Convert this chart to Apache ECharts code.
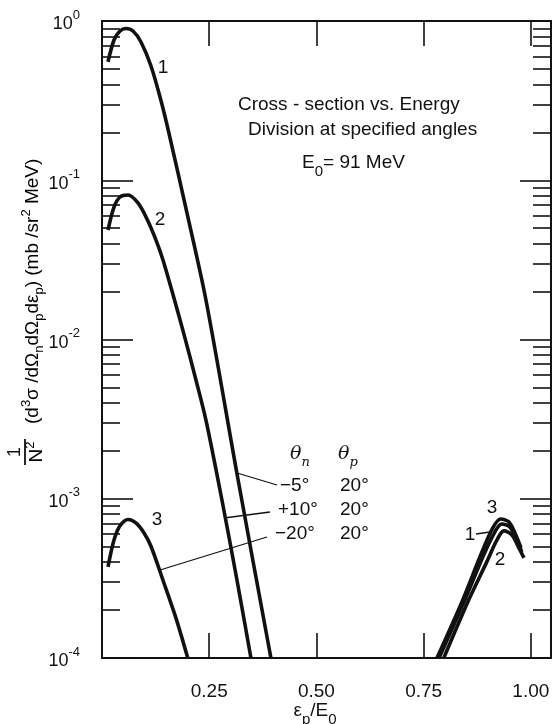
<!DOCTYPE html>
<html><head><meta charset="utf-8">
<script src="https://cdn.jsdelivr.net/npm/echarts@6/dist/echarts.min.js"></script>
<style>html,body{margin:0;padding:0;background:#fff}#c{width:553px;height:724px}</style>
</head><body><div id="c"></div>
<script>
// ---- data ----
const xTickValues = [0.25, 0.5, 0.75, 1.0];
const xTickLabels = ['0.25', '0.50', '0.75', '1.00'];
const yDecades = [1e-4, 1e-3, 1e-2, 1e-1, 1];
const yDecadeExps = ['-4', '-3', '-2', '-1', '0'];
const yMinorMultipliers = [2, 3, 4, 5, 6, 7, 8, 9];

// low-energy branch (eps_p/E0, cross-section)
const curve1Low = [[0.0140,0.553],[0.0280,0.760],[0.0420,0.865],[0.0559,0.897],[0.0723,0.865],[0.0909,0.738],[0.1142,0.522],[0.1375,0.317],[0.1562,0.197],[0.1981,0.0623],[0.2424,0.0177],[0.3170,0.00133],[0.3939,0.0001]];
const curve2Low = [[0.0140,0.0487],[0.0280,0.0679],[0.0420,0.0785],[0.0606,0.0808],[0.0839,0.0720],[0.1049,0.0571],[0.1259,0.0421],[0.1422,0.0316],[0.1678,0.0182],[0.1935,0.0102],[0.2191,0.00557],[0.2424,0.00312],[0.2797,0.000982],[0.3147,0.000309],[0.3473,0.0001]];
const curve3Low = [[0.014,0.000373],[0.028,0.00055],[0.042,0.000676],[0.061,0.000741],[0.079,0.000705],[0.098,0.000610],[0.114,0.000505],[0.142,0.000309],[0.1725,0.000178],[0.200,0.0001]];
// high-energy branch
const curve3High = [[0.781,0.0001],[0.841,0.000231],[0.883,0.000443],[0.911,0.000655],[0.930,0.000746],[0.949,0.000714],[0.965,0.000592],[0.977,0.000491]];
const curve1High = [[0.786,0.0001],[0.846,0.000231],[0.888,0.000431],[0.916,0.000618],[0.932,0.000694],[0.951,0.000665],[0.967,0.000551],[0.979,0.000463]];
const curve2High = [[0.797,0.0001],[0.855,0.000231],[0.897,0.000400],[0.921,0.000551],[0.937,0.000628],[0.956,0.000592],[0.972,0.000491],[0.984,0.000425]];

const curveLabels = ['1', '2', '3'];
const legendNeutronAngles = ['\u22125\u00b0', '+10\u00b0', '\u221220\u00b0'];
const legendProtonAngles = ['20\u00b0', '20\u00b0', '20\u00b0'];

// ---- build ----
const yMinor = [];
yDecades.slice(0, 4).forEach(d => yMinorMultipliers.forEach(m => yMinor.push(m * d)));

const FONT = 'Liberation Sans';
const INK = '#111';
const chart = echarts.init(document.getElementById('c'));

function yLabelFmt(v) {
  const e = Math.round(Math.log10(v));
  const i = yDecades.findIndex(d => Math.round(Math.log10(d)) === e);
  return '{b|10}{s|' + yDecadeExps[i] + '}';
}
function xLabelFmt(v) {
  const i = xTickValues.findIndex(t => Math.abs(t - v) < 1e-9);
  return i >= 0 ? xTickLabels[i] : '';
}
const axisLineStyle = {show: true, lineStyle: {color: INK, width: 2}};
function yAxisDef(position, ticks, len, withLabels) {
  return {
    type: 'log', logBase: 10, min: 1e-4, max: 1, position: position,
    axisLine: axisLineStyle,
    axisTick: {show: true, inside: true, length: len, customValues: ticks, lineStyle: {color: INK, width: 1.6}},
    axisLabel: withLabels ? {
      show: true, margin: 22, customValues: yDecades, formatter: yLabelFmt,
      rich: {
        b: {fontFamily: FONT, fontSize: 18, color: INK, lineHeight: 25, verticalAlign: 'bottom'},
        s: {fontFamily: FONT, fontSize: 13, color: INK, lineHeight: 14, verticalAlign: 'top'}
      }
    } : {show: false},
    splitLine: {show: false}, minorTick: {show: false}
  };
}
function xAxisDef(position, withLabels) {
  return {
    type: 'value', min: 0, max: 1.047, position: position,
    axisLine: axisLineStyle,
    axisTick: {show: true, inside: true, length: 25, customValues: xTickValues, lineStyle: {color: INK, width: 1.6}},
    axisLabel: withLabels ? {show: true, margin: 24, customValues: xTickValues, formatter: xLabelFmt,
      fontFamily: FONT, fontSize: 19, color: INK} : {show: false},
    splitLine: {show: false}
  };
}
function curve(data) {
  return {type: 'line', data: data, xAxisIndex: 0, yAxisIndex: 0, showSymbol: false, smooth: 0.3,
    lineStyle: {color: INK, width: 3.6}, silent: true, animation: false, clip: true};
}

const txt = (x, y, text, size, extra) => Object.assign({type: 'text', x: x, y: y, silent: true,
  style: Object.assign({text: text, fontFamily: FONT, fontSize: size, fill: INK, align: 'left', verticalAlign: 'middle'}, (extra || {}))});
const ln = (x1, y1, x2, y2) => ({type: 'line', silent: true, shape: {x1, y1, x2, y2}, style: {stroke: INK, lineWidth: 1.3}});

const subRich = {
  n: {fontFamily: FONT, fontSize: 19, color: INK, lineHeight: 26, verticalAlign: 'top'},
  u: {fontFamily: FONT, fontSize: 15, color: INK, lineHeight: 16, verticalAlign: 'bottom'}
};
const thRich = {
  t: {fontFamily: 'DejaVu Serif', fontStyle: 'italic', fontSize: 19, color: INK, lineHeight: 24, verticalAlign: 'top'},
  u: {fontFamily: 'DejaVu Serif', fontStyle: 'italic', fontSize: 13, color: INK, lineHeight: 14, verticalAlign: 'bottom'}
};
const ynRich = {
  p: {fontFamily: FONT, fontSize: 19, color: INK, lineHeight: 26, verticalAlign: 'middle'},
  s: {fontFamily: FONT, fontSize: 13, color: INK, lineHeight: 13, verticalAlign: 'top'},
  u: {fontFamily: FONT, fontSize: 13, color: INK, lineHeight: 13, verticalAlign: 'bottom'}
};

const graphics = [
  txt(238, 105, 'Cross - section vs. Energy', 19),
  txt(248, 130, 'Division at specified angles', 19),
  txt(302, 166, '{n|E}{u|0}{n|= 91 MeV}', 19, {rich: subRich}),
  txt(163, 68, curveLabels[0], 19, {align: 'center'}),
  txt(160, 220, curveLabels[1], 19, {align: 'center'}),
  txt(157, 520, curveLabels[2], 19, {align: 'center'}),
  txt(492, 508, curveLabels[2], 19, {align: 'center'}),
  txt(470, 535, curveLabels[0], 19, {align: 'center'}),
  txt(500, 560, curveLabels[1], 19, {align: 'center'}),
  ln(476, 534, 490, 532),
  txt(290, 457, '{t|θ}{u|n}', 19, {rich: thRich}),
  txt(338, 457, '{t|θ}{u|p}', 19, {rich: thRich}),
  txt(280, 486, legendNeutronAngles[0], 19),
  txt(278, 510, legendNeutronAngles[1], 19),
  txt(275, 534, legendNeutronAngles[2], 19),
  txt(340, 486, legendProtonAngles[0], 19),
  txt(340, 510, legendProtonAngles[1], 19),
  txt(340, 534, legendProtonAngles[2], 19),
  ln(237, 473, 277, 485),
  ln(224, 518, 270, 512),
  ln(160, 570, 267, 537),
  // x axis name
  txt(315, 714, '{n|ε}{u|p}{n|/E}{u|0}', 19, {align: 'center', rich: subRich}),
  // y axis name (rotated)
  {type: 'group', x: 25, y: 470, rotation: Math.PI / 2, silent: true, children: [
    {type: 'text', x: 18, y: -10, style: {text: '1', fontFamily: FONT, fontSize: 18, fill: INK, align: 'center', verticalAlign: 'middle'}},
    {type: 'line', shape: {x1: 5, y1: 0, x2: 31, y2: 0}, style: {stroke: INK, lineWidth: 1.8}},
    {type: 'text', x: 18, y: 12, style: {text: '{p|N}{s|2}', rich: ynRich, align: 'center', verticalAlign: 'middle'}},
    {type: 'text', x: 46, y: 8, style: {text: '{p|(d}{s|3}{p|σ /dΩ}{u|n}{p|dΩ}{u|p}{p|dε}{u|p}{p|) (mb /sr}{s|2}{p| MeV)}', rich: ynRich, align: 'left', verticalAlign: 'middle'}}
  ]}
];

chart.setOption({
  animation: false,
  backgroundColor: '#fff',
  grid: {left: 102, right: 2, top: 21, bottom: 66, containLabel: false, outerBoundsMode: 'none'},
  xAxis: [xAxisDef('bottom', true), xAxisDef('top', false)],
  yAxis: [yAxisDef('left', yDecades, 31, true), yAxisDef('left', yMinor, 18, false),
          yAxisDef('right', yDecades, 31, false), yAxisDef('right', yMinor, 18, false)],
  series: [curve(curve1Low), curve(curve2Low), curve(curve3Low), curve(curve3High), curve(curve1High), curve(curve2High)],
  graphic: {elements: graphics}
});
</script></body></html>
